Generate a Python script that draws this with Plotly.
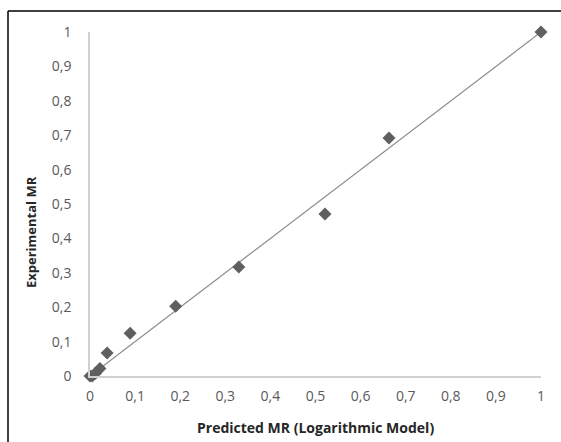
import plotly.graph_objects as go

predicted = [0, 0.005, 0.012, 0.022, 0.038, 0.089, 0.19, 0.33, 0.521, 0.663, 1.0]
experimental = [0, 0.0, 0.008, 0.022, 0.067, 0.124, 0.203, 0.317, 0.471, 0.692, 1.0]
fit_x = [0, 1]
fit_y = [0, 1]
tick_vals = [0, 0.1, 0.2, 0.3, 0.4, 0.5, 0.6, 0.7, 0.8, 0.9, 1]
tick_text = ["0", "0,1", "0,2", "0,3", "0,4", "0,5", "0,6", "0,7", "0,8", "0,9", "1"]

W, H = 561, 442
L, R, T, B = 90, 20, 32, 66
pw, ph = W - L - R, H - T - B

def px_x(p):
    return (p - L) / pw

def px_y(p):
    return (H - B - p) / ph

fig = go.Figure()
fig.add_trace(go.Scatter(x=fit_x, y=fit_y, mode="lines",
                         line=dict(color="#8c8c8c", width=1.2),
                         showlegend=False, hoverinfo="skip"))
fig.add_trace(go.Scatter(x=predicted, y=experimental, mode="markers",
                         marker=dict(symbol="diamond", size=10, color="#5f5f5f",
                                     line=dict(width=0)),
                         showlegend=False, cliponaxis=False))

font = "Open Sans, Noto Sans, sans-serif"
axis_common = dict(range=[0, 1], tickvals=tick_vals, ticktext=tick_text,
                   showgrid=False, zeroline=False, showline=True,
                   linecolor="#d0d0d0", linewidth=1.5, ticks="", automargin=False,
                   tickfont=dict(family=font, size=14, color="#595959"))
fig.update_layout(
    width=W, height=H,
    margin=dict(l=L, r=R, t=T, b=B),
    paper_bgcolor="white", plot_bgcolor="white",
    xaxis=dict(**axis_common, ticklabelstandoff=6),
    yaxis=dict(**axis_common, ticklabelstandoff=14),
    annotations=[
        dict(text="<b>Predicted MR (Logarithmic Model)</b>", xref="paper", yref="paper",
             x=0.5, y=px_y(427), xanchor="center", yanchor="middle", showarrow=False,
             font=dict(family=font, size=14, color="#262626")),
        dict(text="<b>Experimental MR</b>", xref="paper", yref="paper",
             x=px_x(31), y=px_y(232), xanchor="center", yanchor="middle", showarrow=False,
             textangle=-90, font=dict(family=font, size=13, color="#262626")),
    ],
    shapes=[
        dict(type="line", xref="paper", yref="paper", x0=px_x(8), x1=px_x(W + 10),
             y0=px_y(11), y1=px_y(11), line=dict(color="black", width=1.5)),
        dict(type="line", xref="paper", yref="paper", x0=px_x(8), x1=px_x(8),
             y0=px_y(11), y1=px_y(H + 10), line=dict(color="black", width=1.5)),
    ],
)
fig.write_html("out.html", config={"displayModeBar": False},
               post_script="document.body.style.margin='0px';")
